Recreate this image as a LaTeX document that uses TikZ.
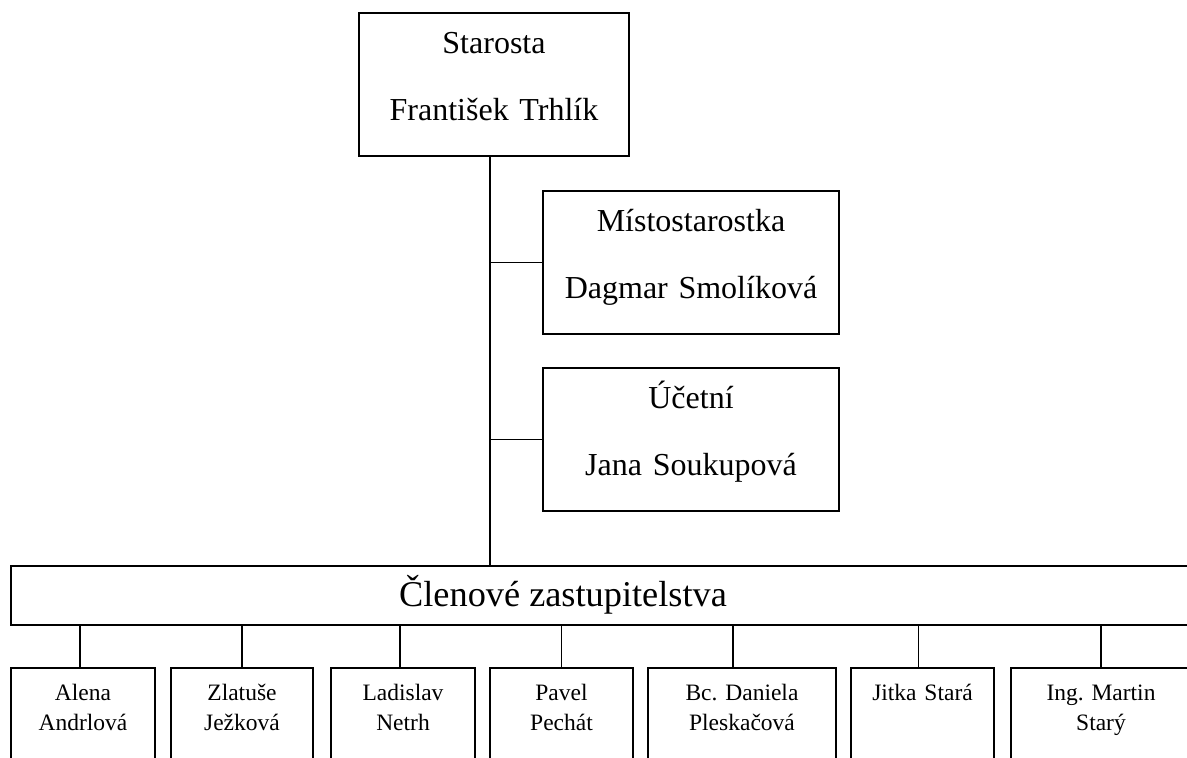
\documentclass[tikz,border=0pt]{standalone}
\usepackage{fontspec}
\setmainfont{Liberation Serif}
\usetikzlibrary{positioning}
\frenchspacing

\begin{document}
\begin{tikzpicture}[x=1pt, y=-1pt, line width=1.8pt,
      every node/.style={draw, rectangle, inner sep=0pt, align=center},
      boss/.style={anchor=north, text width=270pt, text height=41pt, text depth=102pt,
                   font=\fontsize{32}{67}\selectfont},
      member/.style={anchor=north, text height=33pt, text depth=100pt,
                     font=\fontsize{23.5}{30}\selectfont},]
  %.
  \useasboundingbox (0,0) rectangle (1187,758);
  \node[boss] (starosta) at (494,12) {Starosta\\František Trhlík};
  \node[boss, text width=296pt] (misto) at (691,190) {Místostarostka\\Dagmar Smolíková};
  \node[boss, text width=296pt] (ucetni) at (691,367) {Účetní\\Jana Soukupová};
  \node[anchor=north west, minimum width=1190pt, minimum height=59pt] (clen) at (10,565) {};
  \node[draw=none, font=\fontsize{36.3}{42}\selectfont] (clentext) at (563,594.5) {Členové zastupitelstva};
  %.
  \node[member, text width=144pt] (alena) at (83,667) {Alena\\Andrlová};
  \node[member, text width=142pt] (zlatuse) at (242,667) {Zlatuše\\Ježková};
  \node[member, text width=144pt] (ladislav) at (403,667) {Ladislav\\Netrh};
  \node[member, text width=143pt] (pavel) at (561.5,667) {Pavel\\Pechát};
  \node[member, text width=188pt] (daniela) at (742,667) {Bc. Daniela\\Pleskačová};
  \node[member, text width=143pt] (jitka) at (922.5,667) {Jitka Stará};
  \node[member, text width=180pt] (martin) at (1101,667) {Ing. Martin\\Starý};
  %.
  \coordinate (trunk) at (490,0);
  \draw (trunk |- starosta.south) -- (trunk |- clen.north);
  \draw (trunk |- misto.west) -- (misto.west);
  \draw (trunk |- ucetni.west) -- (ucetni.west);
  \draw ([xshift=-3pt]alena.north) -- ([xshift=-3pt]alena.north |- clen.south);
  \draw (zlatuse.north) -- (zlatuse.north |- clen.south);
  \draw ([xshift=-3pt]ladislav.north) -- ([xshift=-3pt]ladislav.north |- clen.south);
  \draw (pavel.north) -- (pavel.north |- clen.south);
  \draw ([xshift=-9pt]daniela.north) -- ([xshift=-9pt]daniela.north |- clen.south);
  \draw ([xshift=-4pt]jitka.north) -- ([xshift=-4pt]jitka.north |- clen.south);
  \draw (martin.north) -- (martin.north |- clen.south);
  %.
\end{tikzpicture}
\end{document}
